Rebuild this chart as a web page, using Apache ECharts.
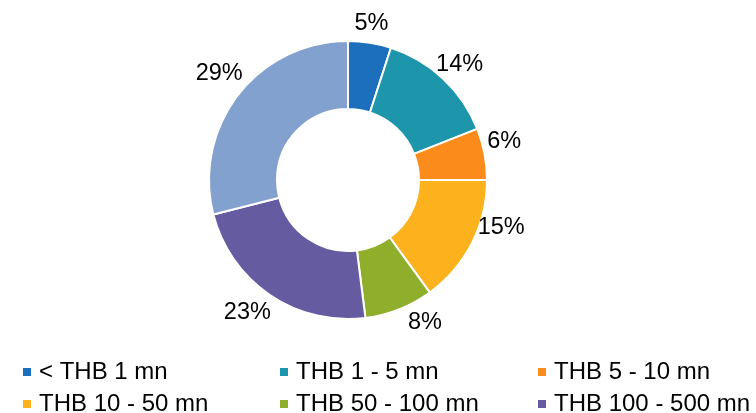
<!DOCTYPE html>
<html>
<head>
<meta charset="utf-8">
<script src="https://cdn.jsdelivr.net/npm/echarts@6/dist/echarts.min.js"></script>
<style>
  html, body { margin: 0; padding: 0; background: #fff; }
  #chart { width: 756px; height: 413px; }
</style>
</head>
<body>
<div id="chart"></div>
<script>
// Loan size buckets and their share of the portfolio (%)
const categories = ['< THB 1 mn', 'THB 1 - 5 mn', 'THB 5 - 10 mn', 'THB 10 - 50 mn',
                    'THB 50 - 100 mn', 'THB 100 - 500 mn', '> THB 500 mn'];
const shares = [5, 14, 6, 15, 8, 23, 29];
const colors = ['#1b6fbd', '#1d96ac', '#fb8c1c', '#fbb21d', '#8fae2b', '#655ba1', '#83a1cf'];

// Small per-label nudges [dx, dy] so the percentages sit clear of the ring
const labelNudge = [[-2, 5], [0, 3], [-4, -8], [8, -26], [17, -9], [-9, -2], [0, -7]];

// Legend laid out as three columns of two entries
const legendColumns = [
  ['< THB 1 mn', 'THB 10 - 50 mn'],
  ['THB 1 - 5 mn', 'THB 50 - 100 mn'],
  ['THB 5 - 10 mn', 'THB 100 - 500 mn']
];
const legendLeft = [21, 278, 536];

const FONT = 'Liberation Sans, Arial, sans-serif';

const chart = echarts.init(document.getElementById('chart'), null, { renderer: 'canvas' });

const ringData = categories.map((name, i) => ({
  name, value: shares[i], itemStyle: { color: colors[i] }
}));
const labelData = categories.map((name, i) => ({
  name, value: shares[i], label: { offset: labelNudge[i] }
}));

chart.setOption({
  animation: false,
  color: colors,
  legend: legendColumns.map((col, i) => ({
    data: col,
    orient: 'vertical',
    left: legendLeft[i],
    top: 360,
    height: 60,
    padding: 0,
    itemWidth: 10,
    itemHeight: 10,
    itemGap: 8,
    icon: 'rect',
    selectedMode: false,
    textStyle: { fontFamily: FONT, fontSize: 24, color: '#000', padding: [0, 0, 0, 2], lineHeight: 24 }
  })),
  series: [
    {
      type: 'pie',
      center: [348, 180],
      radius: [71, 139],
      startAngle: 90,
      clockwise: true,
      silent: true,
      itemStyle: { borderColor: '#fff', borderWidth: 2 },
      label: { show: false },
      labelLine: { show: false },
      data: ringData
    },
    {
      // transparent outer ring that only carries the percentage labels
      type: 'pie',
      center: [348, 180],
      radius: [139, 181],
      startAngle: 90,
      clockwise: true,
      silent: true,
      legendHoverLink: false,
      itemStyle: { color: 'rgba(0,0,0,0)', borderWidth: 0 },
      label: {
        show: true,
        position: 'inside',
        formatter: p => p.value + '%',
        fontFamily: FONT,
        fontSize: 23.5,
        color: '#000'
      },
      labelLine: { show: false },
      data: labelData
    }
  ]
});
</script>
</body>
</html>
